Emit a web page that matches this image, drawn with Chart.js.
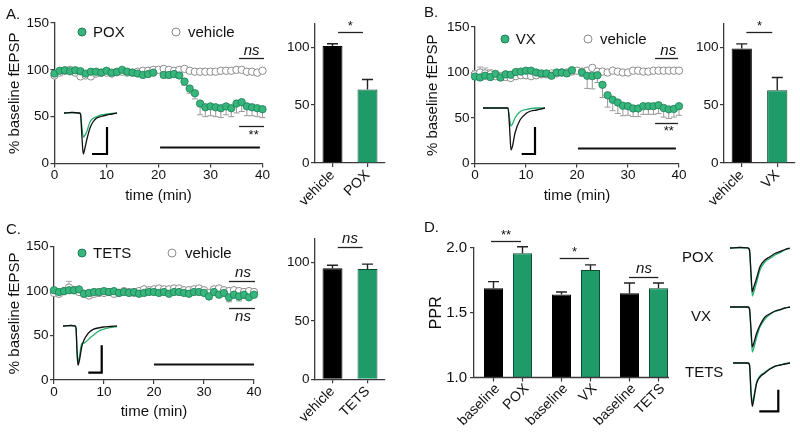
<!DOCTYPE html>
<html><head><meta charset="utf-8">
<script src="https://cdn.jsdelivr.net/npm/chart.js@4.4.1/dist/chart.umd.min.js"></script>
<style>
html,body{margin:0;padding:0;background:#fff}
#page{position:relative;width:800px;height:436px;overflow:hidden;font-family:'Liberation Sans',Arial,Helvetica,sans-serif;color:#111}
canvas{position:absolute}
.t{position:absolute;font-size:15px;line-height:16px;white-space:nowrap}
</style></head><body><div id="page">
<canvas id="scA" width="275" height="210" style="left:0;top:0"></canvas>
<canvas id="barA" width="110" height="210" style="left:280px;top:0"></canvas>
<canvas id="scB" width="290" height="210" style="left:400px;top:0"></canvas>
<canvas id="barB" width="110" height="210" style="left:690px;top:0"></canvas>
<canvas id="scC" width="275" height="226" style="left:0;top:210px"></canvas>
<canvas id="barC" width="110" height="226" style="left:280px;top:210px"></canvas>
<canvas id="pprD" width="290" height="226" style="left:400px;top:210px"></canvas>
<canvas id="trA" width="54" height="46" style="left:64px;top:111px"></canvas>
<canvas id="trB" width="63" height="50" style="left:483px;top:106px"></canvas>
<canvas id="trC" width="54" height="51" style="left:63px;top:323.7px"></canvas>
<canvas id="trD1" width="62" height="52" style="left:730px;top:246px"></canvas>
<canvas id="trD2" width="62" height="50" style="left:730px;top:304.7px"></canvas>
<canvas id="trD3" width="62" height="53" style="left:730px;top:361.3px"></canvas>
<div class="t" style="left:6px;top:6px">A.</div>
<div class="t" style="left:424px;top:4px">B.</div>
<div class="t" style="left:6px;top:221px">C.</div>
<div class="t" style="left:424px;top:219px">D.</div>
<div class="t" style="left:682px;top:248.5px">POX</div>
<div class="t" style="left:691px;top:308px">VX</div>
<div class="t" style="left:685px;top:364px">TETS</div>
</div>
<script>
// ---------------- data ----------------
const minutes = [0,1,2,3,4,5,6,7,8,9,10,11,12,13,14,15,16,17,18,19,20,21,22,23,24,25,26,27,28,29,30,31,32,33,34,35,36,37,38,39,40];

const poxTreated = [96,99,99.5,98.5,99.5,98.5,96,98,98,97, 99,97,97.5,100,98,97,96,94.5,95.5,97, null,94.5,94.5,95.5,94,87.5,80,75,64,60, 61,60,59,61,59,64,65.5,61,60,59, 58];
const poxTreatedErr = [2,2,2,2,2,2,2,2,2,2, 2,2,2,2,2,2,2,2,2,2, 0,2,3,3,3,4,5,6,12,10, 10,10,10,9,9,10,10,10,9,9, 9];
const poxVehicle = [94,97,99,100,97,93,94,93,96,97, 97,96,98,98,97,97,98,99,99,100, 100,101,100,99,100,101,99,98,98,98, 98,98,99,99,99,100,100,98,98,97, 99];
const poxVehicleErr = [2,2,2,2,2,2,2,2,2,2, 2,2,2,2,2,2,2,2,2,2, 2,2,2,2,2,2,2,2,2,2, 2,2,2,2,2,2,2,2,2,2, 2];

const vxTreated = [95.5,94.5,96.5,95,98.5,94.5,98,97.5,100.5,101, 102,102,100,99,99,96.5,100,100,99,102.5, null,100,96.5,96,97,86.5,75,70,67,63.5, 63,60.5,60.5,63,63,63,64,61,59.5,60, 63];
const vxTreatedErr = [3,3,3,3,3,3,3,3,3,3, 3,3,3,3,3,3,3,3,3,3, 0,4,14,14,8,14,13,12,12,11, 10,9,9,9,9,9,9,10,10,9, 10];
const vxVehicle = [98,100,99,98,96,96,95,94,96,97, 97,96,97,98,98,99,99,100,100,101, 102,101,102,105,101,101,100,102,101,100, 100,102,102,101,101,102,102,102,102,102, 102];
const vxVehicleErr = [4,6,6,5,3,3,3,3,3,3, 3,3,3,3,3,3,3,3,3,3, 3,3,3,3,3,2,2,2,2,2, 2,2,2,2,2,2,2,2,2,2, 2];

const tetsTreated = [101,99,100,101,101,102,97,98,99,99, 100,99,100,98,99,98,99,97,98,99, 99,98,99,97,99,99,98,97,99,99, 98,94,99,96,98,93,96,94,96,93, 96];
const tetsTreatedErr = [2,2,2,2,2,2,2,2,2,2, 2,2,2,2,2,2,2,2,2,2, 2,2,2,2,2,2,2,2,2,2, 2,3,2,2,3,5,3,5,4,2, 3];
const tetsVehicle = [98,97,100,104,101,99,97,95,97,98, 98,99,97,98,100,99,98,100,102,101, 102,103,102,102,103,103,101,101,102,103, 101,98,102,103,101,100,101,100,99,100, 99];
const tetsVehicleErr = [2,2,3,7,2,2,2,2,2,2, 2,2,2,2,2,2,2,2,2,2, 2,2,2,2,2,2,2,2,2,2, 2,2,2,2,2,2,2,2,2,2, 2];

const barLabelsA = ['vehicle','POX'];
const barValuesA = [101, 63.5];
const barErrA = [2, 8.6];
const barLabelsB = ['vehicle','VX'];
const barValuesB = [98.8, 62.8];
const barErrB = [4, 11];
const barLabelsC = ['vehicle','TETS'];
const barValuesC = [95, 94.3];
const barErrC = [2.6, 4.2];

const pprGroups = ['POX','VX','TETS'];
const pprControlLabel = 'baseline';
const pprBaseline = [1.69, 1.64, 1.65];
const pprBaselineErr = [0.05, 0.02, 0.08];
const pprTreated = [1.96, 1.83, 1.69];
const pprTreatedErr = [0.05, 0.04, 0.04];

// inset traces (time in trace units, amplitude in trace units)
const traceTimeA = [0,8,15,16.5,18,19.3,20.5,22.7,26,29,32.7,37,42.7,48,53];
const traceBlackA = [0,0.5,0,-1,-25,-41,-37,-27,-15,-9,-5,-3.5,-2,-1,0];
const traceGreenA = [0,0.5,0,-1,-15,-24,-23,-18.7,-9,-5.5,-3.7,-2,-1,-0.5,0];
const traceTimeB = [0,10,20,25,26.5,28,29.5,32,37,43.7,48,53.7,58,62];
const traceBlackB = [0,0,0,0,-18,-42,-38,-25,-12,-5,-3,-2,-1,0];
const traceGreenB = [0,0,0,0,-10,-18,-16,-10,-3.7,-1.3,-0.5,0,0,0];
const traceTimeC = [0,8,12,13,14,15,16.5,18.7,21,23.7,27,30.3,35,40.3,47,54];
const traceBlackC = [0,0.5,0,-2,-25,-39.3,-34,-21,-14,-9.3,-5.5,-3.3,-2,-1,-0.5,0];
const traceGreenC = [0,0.5,0,-2,-24,-37.3,-30,-17.6,-17,-15,-12,-9.3,-5.5,-3.3,-1.6,-0.5];
const traceTimeD = [0,10,18,19.5,21,22.3,23.5,26.7,30,35,40,45,50,55,60];
const traceTimeDT = [3,10,18,19.5,21,22.3,23.5,26.7,30,35,40,45,50,55,60];
const traceBlackPOX = [0,0.5,0,-2,-25,-43.7,-40,-30,-18.7,-12,-8.7,-5.5,-3.7,-1.5,0];
const traceGreenPOX = [0,0.5,0,-2,-28,-48,-45,-34,-22,-14,-10.3,-7,-4.7,-2,-0.5];
const traceBlackVX = [0,0,0,-2,-22,-40,-37,-26,-18.3,-10,-6.7,-4,-2.7,-1,0];
const traceGreenVX = [0,0,0,-2,-25,-45,-42,-30,-20,-12,-7.5,-4.5,-3,-1,0];
const traceBlackTETS = [0,0,0,-2,-30,-43.3,-38,-20,-14,-10,-6,-3.3,-2,-1,0];
const traceGreenTETS = [0,0,0,-2,-28,-39.7,-35,-19,-13,-9,-5.5,-3,-2,-0.5,0];

// ---------------- style ----------------
Chart.defaults.font.family = "'Liberation Sans', Arial, Helvetica, sans-serif";
Chart.defaults.color = '#111';
Chart.defaults.animation = false;
Chart.defaults.responsive = false;
Chart.defaults.devicePixelRatio = 1;
Chart.defaults.events = [];
Chart.defaults.plugins.legend.display = false;
Chart.defaults.plugins.tooltip.enabled = false;

const AX = '#3a3a3a';
const DOT = '#36b57c', DOT_EDGE = '#1f7d54';
const BAR_G = '#1f9b69', BAR_G_EDGE = '#0f4a31';
const TR_G = '#27b070';

const errPlugin = {
  id: 'errbars',
  beforeDatasetsDraw(chart) {
    const ctx = chart.ctx, ys = chart.scales.y;
    chart.data.datasets.forEach((ds, di) => {
      if (!ds.values) return;
      const meta = chart.getDatasetMeta(di);
      ['errLow','errHigh'].forEach(k => {
        const errs = ds[k]; if (!errs) return;
        const sign = k === 'errLow' ? -1 : 1;
        ctx.save(); ctx.strokeStyle = ds.errColor; ctx.lineWidth = ds.errWidth || 1;
        meta.data.forEach((el, j) => {
          const v = ds.values[j], e = errs[j];
          if (v == null || !e) return;
          const x = el.x, y0 = ys.getPixelForValue(v), y1 = ys.getPixelForValue(v + sign*e), cw = ds.capWidth/2;
          ctx.beginPath(); ctx.moveTo(x, y0); ctx.lineTo(x, y1);
          ctx.moveTo(x-cw, y1); ctx.lineTo(x+cw, y1); ctx.stroke();
        });
        ctx.restore();
      });
    });
  }
};

const annotPlugin = {
  id: 'annot',
  afterDraw(chart, args, opts) {
    const ctx = chart.ctx, xs = chart.scales.x, ys = chart.scales.y;
    (opts.items || []).forEach(it => {
      ctx.save();
      if (it.line) {
        const [x1, x2, y] = it.line;
        ctx.strokeStyle = it.color || '#222'; ctx.lineWidth = it.width || 1.3;
        const py = Math.round(ys.getPixelForValue(y)) + 0.5;
        ctx.beginPath(); ctx.moveTo(xs.getPixelForValue(x1), py); ctx.lineTo(xs.getPixelForValue(x2), py); ctx.stroke();
      }
      if (it.text) {
        ctx.font = it.font; ctx.fillStyle = '#111'; ctx.textAlign = 'center'; ctx.textBaseline = 'middle';
        ctx.fillText(it.text, xs.getPixelForValue(it.x), ys.getPixelForValue(it.y) + (it.dy || 0));
      }
      ctx.restore();
    });
    (opts.legend || []).forEach(it => {
      ctx.save();
      ctx.beginPath(); ctx.arc(it.cx, it.cy, 4, 0, Math.PI*2);
      ctx.fillStyle = it.fill; ctx.fill(); ctx.strokeStyle = it.stroke; ctx.lineWidth = 1; ctx.stroke();
      ctx.font = "15px 'Liberation Sans', Arial, sans-serif"; ctx.fillStyle = '#111';
      ctx.textAlign = 'left'; ctx.textBaseline = 'middle';
      ctx.fillText(it.text, it.tx, it.cy + 0.5);
      ctx.restore();
    });
  }
};

function axisStyle() {
  return { grid: { drawOnChartArea: false, tickLength: 4, color: AX, lineWidth: 1.2 }, border: { color: AX, width: 1.3 } };
}

function scatterPanel(cfg) {
  const mk = arr => minutes.map((m, i) => ({ x: m, y: arr[i] }));
  return new Chart(document.getElementById(cfg.id), {
    type: 'scatter',
    data: { datasets: [
      { label: cfg.treatLabel, data: mk(cfg.treated), values: cfg.treated, errLow: cfg.treatedErr, errColor: '#9a9a9a', capWidth: 6,
        backgroundColor: DOT, borderColor: DOT_EDGE, borderWidth: 0.8, pointRadius: 3.7, clip: false },
      { label: 'vehicle', data: mk(cfg.vehicle), values: cfg.vehicle, errHigh: cfg.vehicleErr, errColor: '#a8a8a8', capWidth: 6,
        backgroundColor: '#fff', borderColor: '#8c8c8c', borderWidth: 1, pointRadius: 3.7, clip: false }
    ]},
    options: {
      layout: { padding: cfg.pad },
      plugins: { annot: { items: cfg.annot, legend: cfg.legend } },
      scales: {
        x: Object.assign(axisStyle(), { type: 'linear', min: 0, max: 40,
          afterFit: s => { s.height = cfg.xh; },
          ticks: { stepSize: 10, padding: 0, font: { size: 13.5 } },
          title: { display: true, text: 'time (min)', font: { size: 15 }, padding: { top: 0, bottom: cfg.xtPad } } }),
        y: Object.assign(axisStyle(), { min: 0, max: 150,
          afterFit: s => { s.width = cfg.yw; },
          ticks: { stepSize: 50, padding: 1.5, font: { size: 13.5 } },
          title: { display: true, text: '% baseline fEPSP', font: { size: 15 }, padding: { top: cfg.ytPad, bottom: 0 } } })
      }
    },
    plugins: [errPlugin, annotPlugin]
  });
}

function barPanel(cfg) {
  return new Chart(document.getElementById(cfg.id), {
    type: 'bar',
    data: { labels: cfg.labels, datasets: [{
      data: cfg.values, values: cfg.values, errHigh: cfg.err, errColor: '#222', errWidth: 1.4, capWidth: 11,
      backgroundColor: ['#000', BAR_G], borderColor: ['#000', BAR_G_EDGE], borderWidth: 1,
      barPercentage: 0.57, categoryPercentage: 1 }] },
    options: {
      layout: { padding: cfg.pad },
      plugins: { annot: { items: cfg.annot } },
      scales: {
        x: Object.assign(axisStyle(), {
          grid: { drawOnChartArea: false, tickLength: 4, color: AX, lineWidth: 1.2, offset: false },
          afterFit: s => { s.height = cfg.xh; },
          ticks: { minRotation: 45, maxRotation: 45, padding: 0, font: { size: 14 } } }),
        y: Object.assign(axisStyle(), { min: 0, max: 120,
          afterFit: s => { s.width = cfg.yw; },
          ticks: { stepSize: 50, includeBounds: false, padding: 1.5, font: { size: 13.5 } } })
      }
    },
    plugins: [errPlugin, annotPlugin]
  });
}

// ---------- panel A ----------
scatterPanel({ id: 'scA', treatLabel: 'POX', treated: poxTreated, treatedErr: poxTreatedErr, vehicle: poxVehicle, vehicleErr: poxVehicleErr,
  pad: { left: 0, top: 23, right: 12.5, bottom: 0 }, yw: 54.5, xh: 46.5, xtPad: 5, ytPad: 5.5,
  legend: [ { cx: 82, cy: 32, fill: DOT, stroke: DOT_EDGE, text: 'POX', tx: 93 },
            { cx: 176, cy: 32, fill: '#fff', stroke: '#8c8c8c', text: 'vehicle', tx: 188 } ],
  annot: [ { line: [35.5, 40.3, 112.6] }, { text: 'ns', x: 37.9, y: 112.6, dy: -7, font: "italic 15px 'Liberation Sans', Arial, sans-serif" },
           { line: [35.5, 40.3, 40] }, { text: '**', x: 38.3, y: 40, dy: 9, font: "13px 'Liberation Sans', Arial, sans-serif" },
           { line: [20.3, 39.5, 17.6], width: 2.2, color: '#111' } ] });
barPanel({ id: 'barA', labels: barLabelsA, values: barValuesA, err: barErrA,
  pad: { left: 0, top: 24, right: 5, bottom: 0 }, yw: 35, xh: 47,
  annot: [ { line: [0.16, 0.87, 113] }, { text: '*', x: 0.51, y: 113, dy: -6, font: "13px 'Liberation Sans', Arial, sans-serif" } ] });

// ---------- panel B ----------
scatterPanel({ id: 'scB', treatLabel: 'VX', treated: vxTreated, treatedErr: vxTreatedErr, vehicle: vxVehicle, vehicleErr: vxVehicleErr,
  pad: { left: 0, top: 27, right: 11, bottom: 0 }, yw: 75, xh: 46.5, xtPad: 5, ytPad: 23.7,
  legend: [ { cx: 105, cy: 39, fill: DOT, stroke: DOT_EDGE, text: 'VX', tx: 115.7 },
            { cx: 188, cy: 39, fill: '#fff', stroke: '#8c8c8c', text: 'vehicle', tx: 200 } ],
  annot: [ { line: [35.3, 39.8, 115.9] }, { text: 'ns', x: 37.9, y: 115.9, dy: -7, font: "italic 15px 'Liberation Sans', Arial, sans-serif" },
           { line: [35.3, 39.8, 44.5] }, { text: '**', x: 38, y: 44.5, dy: 8, font: "13px 'Liberation Sans', Arial, sans-serif" },
           { line: [20.2, 39.4, 17], width: 2.2, color: '#111' } ] });
barPanel({ id: 'barB', labels: barLabelsB, values: barValuesB, err: barErrB,
  pad: { left: 0, top: 24, right: 5, bottom: 0 }, yw: 34, xh: 47,
  annot: [ { line: [0.13, 0.86, 113] }, { text: '*', x: 0.5, y: 113, dy: -6, font: "13px 'Liberation Sans', Arial, sans-serif" } ] });

// ---------- panel C ----------
scatterPanel({ id: 'scC', treatLabel: 'TETS', treated: tetsTreated, treatedErr: tetsTreatedErr, vehicle: tetsVehicle, vehicleErr: tetsVehicleErr,
  pad: { left: 0, top: 36.7, right: 21, bottom: 0 }, yw: 54, xh: 56, xtPad: 15, ytPad: 5.5,
  legend: [ { cx: 82, cy: 43, fill: DOT, stroke: DOT_EDGE, text: 'TETS', tx: 93 },
            { cx: 172, cy: 43, fill: '#fff', stroke: '#8c8c8c', text: 'vehicle', tx: 185 } ],
  annot: [ { line: [35, 40.2, 111.7] }, { text: 'ns', x: 37.8, y: 111.7, dy: -8, font: "italic 15px 'Liberation Sans', Arial, sans-serif" },
           { line: [35, 40.2, 81] }, { text: 'ns', x: 37.8, y: 81, dy: 9, font: "italic 15px 'Liberation Sans', Arial, sans-serif" },
           { line: [20, 40, 18], width: 2.2, color: '#111' } ] });
barPanel({ id: 'barC', labels: barLabelsC, values: barValuesC, err: barErrC,
  pad: { left: 0, top: 29, right: 5, bottom: 0 }, yw: 35, xh: 56.7,
  annot: [ { line: [0.15, 0.86, 113.2] }, { text: 'ns', x: 0.5, y: 113.2, dy: -8, font: "italic 15px 'Liberation Sans', Arial, sans-serif" } ] });

// ---------- panel D ----------
const pairLabelPlugin = {
  id: 'pairLabels',
  afterDraw(chart) {
    const ctx = chart.ctx, area = chart.chartArea, b = area.bottom;
    const m0 = chart.getDatasetMeta(0).data, m1 = chart.getDatasetMeta(1).data;
    const last = m1[m1.length - 1];
    ctx.save();
    ctx.strokeStyle = AX; ctx.lineWidth = 1.3;
    ctx.beginPath(); ctx.moveTo(area.left, b); ctx.lineTo(last.x + last.width/2 + 1, b); ctx.stroke();
    ctx.font = "14px 'Liberation Sans', Arial, sans-serif"; ctx.fillStyle = '#111';
    ctx.textAlign = 'right'; ctx.textBaseline = 'middle';
    pprGroups.forEach((g, i) => {
      [[m0[i], pprControlLabel], [m1[i], g]].forEach(([bar, txt]) => {
        ctx.lineWidth = 1.2;
        ctx.beginPath(); ctx.moveTo(bar.x, b); ctx.lineTo(bar.x, b + 4); ctx.stroke();
        ctx.save(); ctx.translate(bar.x + 4, b + 9); ctx.rotate(-Math.PI/4); ctx.fillText(txt, 0, 0); ctx.restore();
      });
    });
    ctx.restore();
  }
};
new Chart(document.getElementById('pprD'), {
  type: 'bar',
  data: { labels: pprGroups, datasets: [
    { data: pprBaseline, values: pprBaseline, errHigh: pprBaselineErr, errColor: '#222', errWidth: 1.4, capWidth: 11,
      backgroundColor: '#000', borderColor: '#000', borderWidth: 1, barPercentage: 0.655, categoryPercentage: 0.853 },
    { data: pprTreated, values: pprTreated, errHigh: pprTreatedErr, errColor: '#222', errWidth: 1.4, capWidth: 11,
      backgroundColor: BAR_G, borderColor: BAR_G_EDGE, borderWidth: 1, barPercentage: 0.655, categoryPercentage: 0.853 }
  ]},
  options: {
    layout: { padding: { left: 0, top: 38, right: 12, bottom: 0 } },
    plugins: { annot: { items: [
      { line: [-0.25, 0.19, 2.054] }, { text: '**', x: -0.03, y: 2.054, dy: -6, font: "13px 'Liberation Sans', Arial, sans-serif" },
      { line: [0.76, 1.19, 1.92] }, { text: '*', x: 0.98, y: 1.92, dy: -6, font: "13px 'Liberation Sans', Arial, sans-serif" },
      { line: [1.78, 2.21, 1.778] }, { text: 'ns', x: 2.0, y: 1.778, dy: -8, font: "italic 15px 'Liberation Sans', Arial, sans-serif" }
    ] } },
    scales: {
      x: { grid: { display: false }, border: { display: false }, ticks: { display: false },
           afterFit: s => { s.height = 58.5; } },
      y: Object.assign(axisStyle(), { min: 1, max: 2,
        afterFit: s => { s.width = 74; },
        ticks: { stepSize: 0.5, padding: 3, font: { size: 15 }, callback: v => v.toFixed(1) },
        title: { display: true, text: 'PPR', font: { size: 16 }, padding: { top: 27, bottom: 0 } } })
    }
  },
  plugins: [errPlugin, annotPlugin, pairLabelPlugin]
});

// ---------- inset traces ----------
function traceChart(id, t, black, green, bar) {
  const el = document.getElementById(id);
  const W = el.width, H = el.height;
  const pts = arr => t.map((x, i) => ({ x, y: arr[i] }));
  const ds = [
    { data: pts(black), borderColor: '#111', borderWidth: 1.3, pointRadius: 0, cubicInterpolationMode: 'monotone', clip: false },
    { data: pts(green), borderColor: TR_G, borderWidth: 1.3, pointRadius: 0, cubicInterpolationMode: 'monotone', clip: false }
  ];
  if (bar) ds.unshift({ data: bar.x.map((x, i) => ({ x, y: bar.y[i] })), borderColor: '#000', borderWidth: 2.2, pointRadius: 0, tension: 0, clip: false });
  return new Chart(el, {
    type: 'line',
    data: { datasets: ds },
    options: { layout: { padding: 0 },
      scales: { x: { type: 'linear', display: false, min: 0, max: W }, y: { display: false, min: -(H - 2), max: 2 } } }
  });
}
const scaleBarA = { x: [43, 43, 28], y: [-14, -41, -41] };
const scaleBarB = { x: [52, 52, 38.7], y: [-19, -46, -46] };
const scaleBarC = { x: [38.7, 38.7, 25.3], y: [-19.3, -46.6, -46.6] };
const scaleBarD = { x: [48.3, 48.3, 29.3], y: [-26.7, -48.4, -48.4] };
traceChart('trA', traceTimeA, traceBlackA, traceGreenA, scaleBarA);
traceChart('trB', traceTimeB, traceBlackB, traceGreenB, scaleBarB);
traceChart('trC', traceTimeC, traceBlackC, traceGreenC, scaleBarC);
traceChart('trD1', traceTimeD, traceBlackPOX, traceGreenPOX, null);
traceChart('trD2', traceTimeD, traceBlackVX, traceGreenVX, null);
traceChart('trD3', traceTimeDT, traceBlackTETS, traceGreenTETS, scaleBarD);
</script>
</body></html>
